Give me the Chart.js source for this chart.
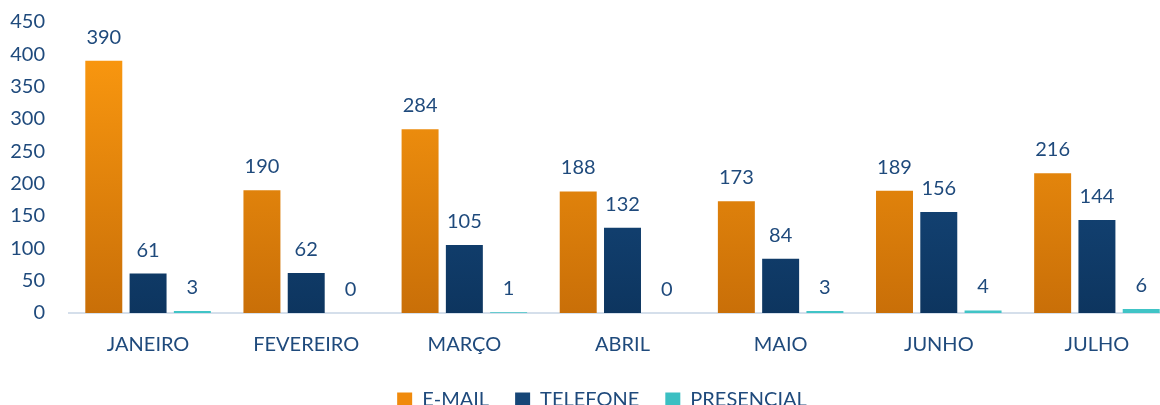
<!DOCTYPE html>
<html>
<head>
<meta charset="utf-8">
<script src="https://cdn.jsdelivr.net/npm/chart.js@4/dist/chart.umd.min.js"></script>
<style>
  html, body { margin: 0; padding: 0; background: #fff; overflow: hidden; }
  #wrap { width: 1176px; height: 405px; }
</style>
</head>
<body>
<div id="wrap"><canvas id="chart" width="1176" height="405"></canvas></div>
<script>
const months = ['JANEIRO', 'FEVEREIRO', 'MARÇO', 'ABRIL', 'MAIO', 'JUNHO', 'JULHO'];
const email = [390, 190, 284, 188, 173, 189, 216];
const telefone = [61, 62, 105, 132, 84, 156, 144];
const presencial = [3, 0, 1, 0, 3, 4, 6];
const yTicks = [0, 50, 100, 150, 200, 250, 300, 350, 400, 450];

const textColor = '#1F4A7C';
const fontFamily = 'Lato, "Open Sans", sans-serif';

// vertical gradient over the plot area
function grad(top, bottom) {
    return function (context) {
        const area = context.chart.chartArea;
        if (!area) return top;
        const g = context.chart.ctx.createLinearGradient(0, area.top, 0, area.bottom);
        g.addColorStop(0, top);
        g.addColorStop(1, bottom);
        return g;
    };
}

// value labels above the bars
const valueLabels = {
    id: 'valueLabels',
    afterDatasetsDraw(chart) {
        const ctx = chart.ctx;
        ctx.save();
        ctx.fillStyle = textColor;
        ctx.font = '20px ' + fontFamily;
        ctx.textAlign = 'center';
        ctx.textBaseline = 'alphabetic';
        chart.data.datasets.forEach((ds, i) => {
            chart.getDatasetMeta(i).data.forEach((bar, j) => {
                ctx.fillText(ds.data[j], bar.x, bar.y - 17);
            });
        });
        ctx.restore();
    }
};

// tighten the legend box and pull the plot top up
const layoutTweaks = {
    id: 'layoutTweaks',
    beforeInit(chart) {
        const fit = chart.legend.fit;
        chart.legend.fit = function () {
            fit.call(this);
            this.height -= 28;
        };
    },
    afterLayout(chart) {
        const legend = chart.legend;
        legend.top -= 13;
        legend.bottom = chart.height;
        legend.left += 14;
        legend.right += 14;

        const top = 22;
        const area = chart.chartArea;
        area.top = top;
        area.height = area.bottom - top;
        const y = chart.scales.y;
        y.top = top;
        y.height = y.bottom - top;
        y.configure();
    }
};

new Chart(document.getElementById('chart'), {
    type: 'bar',
    data: {
        labels: months,
        datasets: [
            { label: 'E-MAIL', data: email, backgroundColor: grad('#FF9C10', '#C96F08'), legendColor: '#F08A0C' },
            { label: 'TELEFONE', data: telefone, backgroundColor: grad('#1B5590', '#0D355F'), legendColor: '#164677' },
            { label: 'PRESENCIAL', data: presencial, backgroundColor: '#40C4C6', legendColor: '#3BBFC2' }
        ]
    },
    options: {
        responsive: false,
        animation: false,
        categoryPercentage: 0.84,
        barPercentage: 0.835,
        plugins: {
            tooltip: { enabled: false },
            legend: {
                position: 'bottom',
                labels: {
                    color: textColor,
                    font: { size: 20, family: fontFamily },
                    boxWidth: 15,
                    boxHeight: 15,
                    padding: 26,
                    generateLabels(chart) {
                        return chart.data.datasets.map((ds, i) => ({
                            text: ds.label,
                            fillStyle: ds.legendColor,
                            strokeStyle: ds.legendColor,
                            lineWidth: 0,
                            fontColor: textColor,
                            datasetIndex: i
                        }));
                    }
                }
            }
        },
        scales: {
            x: {
                grid: { display: false, drawTicks: false },
                border: { display: true, color: '#D5DFEB', width: 2 },
                ticks: {
                    color: textColor,
                    font: { size: 20, family: fontFamily },
                    padding: 20
                }
            },
            y: {
                min: 0,
                max: 450,
                afterFit(scale) { scale.width = 69; },
                afterBuildTicks(scale) { scale.ticks = yTicks.map(v => ({ value: v })); },
                grid: { display: false, drawTicks: false },
                border: { display: false },
                ticks: {
                    color: textColor,
                    font: { size: 20, family: fontFamily },
                    padding: 24
                }
            }
        }
    },
    plugins: [valueLabels, layoutTweaks]
});
</script>
</body>
</html>
